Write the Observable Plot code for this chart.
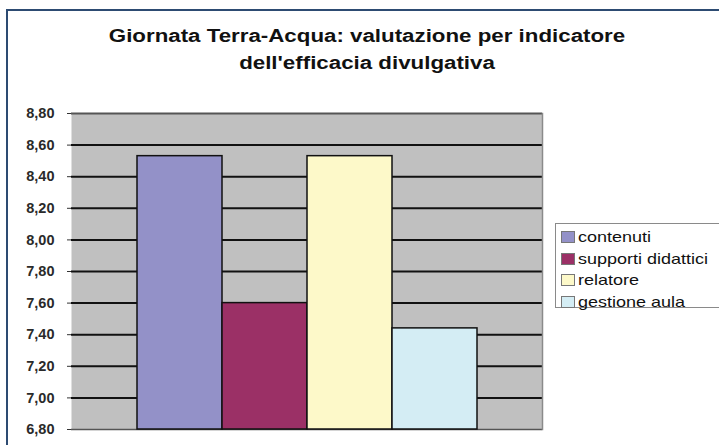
<!DOCTYPE html>
<html>
<head>
<meta charset="utf-8">
<script src="https://cdn.jsdelivr.net/npm/d3@7"></script>
<script src="https://cdn.jsdelivr.net/npm/@observablehq/plot@0.6"></script>
<style>
  html, body { margin: 0; padding: 0; background: #fff; }
  #wrap { position: relative; width: 719px; height: 445px; overflow: hidden; font-family: "Liberation Sans", Arial, sans-serif; }
  #frame { position: absolute; left: 6px; top: 9px; width: 730px; height: 460px; border-left: 2.5px solid #2d4b72; border-top: 2.5px solid #2d4b72; box-sizing: border-box; }
  #title { position: absolute; left: 0; top: 22px; width: 734px; text-align: center; font-weight: bold; font-size: 18.3px; line-height: 27px; color: #111; transform: scaleX(1.22); transform-origin: 367px 0; }
  #chart { position: absolute; left: 0; top: 100px; }
  #legend { position: absolute; left: 555px; top: 223px; width: 165px; height: 85px; border: 1px solid #8a8a8a; background: #fff; box-sizing: border-box; }
  .item { position: absolute; left: 5px; height: 20px; width: 160px; }
  .sw { position: absolute; left: 0; top: 4px; width: 12px; height: 10px; border: 1px solid #777; }
  .lb { position: absolute; left: 17px; top: 0; font-size: 15px; line-height: 20px; color: #111; white-space: nowrap; transform: scaleX(1.2); transform-origin: 0 50%; }
</style>
</head>
<body>
<div id="wrap">
  <div id="frame"></div>
  <div id="title"></div>
  <div id="chart"></div>
  <div id="legend"></div>
</div>
<script>
const titleLines = ["Giornata Terra-Acqua: valutazione per indicatore", "dell'efficacia divulgativa"];
const series = ["contenuti", "supporti didattici", "relatore", "gestione aula"];
const values = [8.53, 7.60, 8.53, 7.44];
const colors = ["#9391c8", "#9b3066", "#fdf9c9", "#d4edf4"];
const yTicks = [6.8, 7.0, 7.2, 7.4, 7.6, 7.8, 8.0, 8.2, 8.4, 8.6, 8.8];

document.getElementById("title").innerHTML = titleLines.map(t => `<div>${t}</div>`).join("");

const data = series.map((s, i) => ({series: s, value: values[i]}));
const fmt = v => d3.format(".2f")(v).replace(".", ",");

const chart = Plot.plot({
  width: 719,
  height: 340,
  marginTop: 13,
  marginBottom: 11,
  marginLeft: 71,
  marginRight: 177,
  style: {fontFamily: "'Liberation Sans', Arial, sans-serif", fontSize: "14.5px", fontWeight: "bold", color: "#2a2a2a", background: "transparent"},
  x: {domain: series, paddingInner: 0, paddingOuter: 0.75, axis: null},
  y: {domain: [6.8, 8.8], ticks: yTicks, tickFormat: fmt, label: null},
  color: {domain: series, range: colors},
  marks: [
    Plot.frame({fill: "#c0c0c0", stroke: "none"}),
    Plot.ruleY(yTicks.slice(1, -1), {stroke: "#111", strokeWidth: 2}),
    Plot.ruleY([8.8], {stroke: "#555", strokeWidth: 2}),
    Plot.ruleY([6.8], {stroke: "#555", strokeWidth: 1.5}),
    Plot.barY(data, {x: "series", y1: 6.8, y2: "value", fill: "series", stroke: "#111", strokeWidth: 1.5}),
    Plot.frame({stroke: "#8a8a8a", strokeWidth: 1.5, fill: "none", anchor: "right"}),
    Plot.axisY({ticks: yTicks, tickFormat: fmt, tickSize: 4, tickPadding: 13, stroke: "#333", label: null})
  ]
});
document.getElementById("chart").appendChild(chart);

document.getElementById("legend").innerHTML = series.map((s, i) =>
  `<div class="item" style="top:${3 + i * 21.5}px"><span class="sw" style="background:${colors[i]}"></span><span class="lb">${s}</span></div>`).join("");
</script>
</body>
</html>
